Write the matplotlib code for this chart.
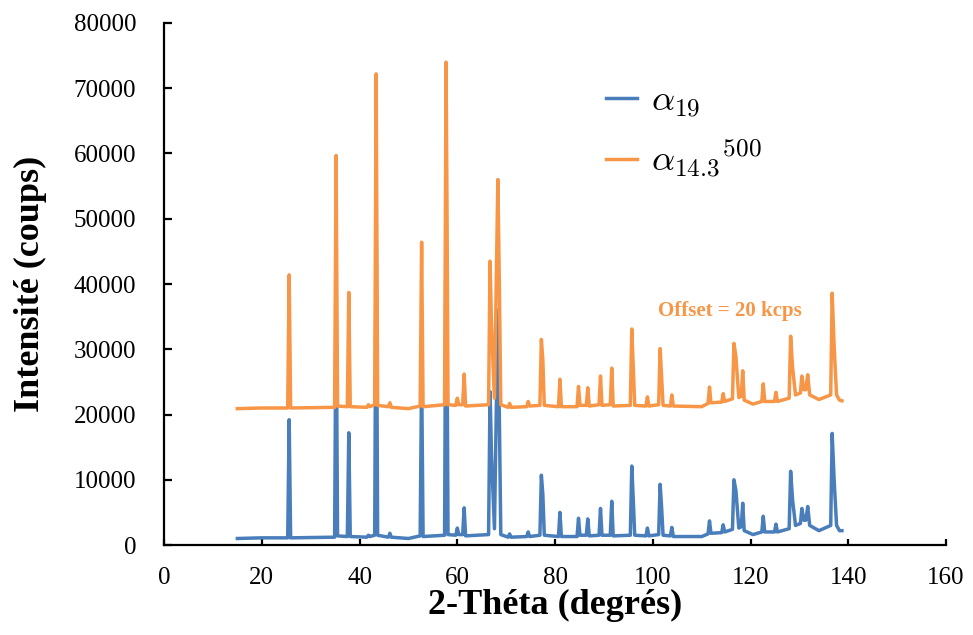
import numpy as np
import matplotlib
matplotlib.use("Agg")
import matplotlib.pyplot as plt

plt.rcParams['font.family'] = ['Liberation Serif', 'DejaVu Serif']
plt.rcParams['mathtext.fontset'] = 'cm'

# 2-theta vertices (baseline / peak top / shoulder)
two_theta = [15.0, 20.0, 25.3, 25.6, 25.9, 34.9, 35.2, 35.5, 37.5, 37.8, 38.1,
             41.5, 41.8, 42.1, 43.1, 43.4, 43.7, 45.9, 46.2, 46.5, 50.0,
             52.4, 52.7, 53.0, 57.4, 57.7, 57.9, 58.1, 59.7, 60.0, 60.3,
             61.1, 61.4, 61.7, 66.4, 66.7, 67.0, 67.6, 68.3, 68.6, 68.9,
             70.4, 70.7, 71.0, 74.2, 74.5, 74.8, 76.9, 77.2, 77.5, 77.8,
             80.7, 81.0, 81.3, 84.5, 84.8, 85.1, 86.4, 86.7, 87.0, 89.0,
             89.3, 89.6, 91.3, 91.6, 91.9, 95.4, 95.7, 96.0, 96.3, 98.6,
             98.9, 99.2, 101.2, 101.5, 101.8, 102.1, 103.6, 103.9, 104.2, 110.0,
             111.3, 111.6, 111.9, 114.1, 114.4, 114.7, 116.3, 116.6, 117.0, 117.6,
             118.1, 118.4, 118.7, 120.5, 122.3, 122.6, 122.9, 124.9, 125.2, 125.5,
             127.9, 128.2, 128.6, 129.2, 130.2, 130.5, 130.9, 131.3, 131.7, 132.1,
             134.0, 136.4, 136.7, 137.1, 137.6, 138.2, 138.7]

alpha19 = [1000, 1100, 1100, 19200, 1100, 1200, 39500, 1400, 1300, 17200, 1300,
           1200, 1500, 1300, 1500, 52000, 1500, 1200, 1800, 1200, 1000,
           1400, 26500, 1300, 1500, 54000, 31000, 1600, 1500, 2600, 1600,
           1600, 5700, 1400, 1600, 23500, 13700, 2500, 36000, 20000, 1600,
           1200, 1700, 1200, 1300, 2000, 1300, 1500, 10700, 7800, 1500,
           1300, 5000, 1300, 1300, 4100, 1500, 1500, 4000, 1400, 1500,
           5600, 1500, 1500, 6700, 1400, 1500, 12100, 7000, 1500, 1400,
           2600, 1400, 1600, 9300, 5800, 1500, 1400, 2700, 1300, 1300,
           1700, 3700, 1800, 1900, 3100, 2000, 2400, 10000, 8400, 2600,
           2800, 6400, 2200, 1600, 2000, 4400, 2000, 2000, 3200, 2000,
           2500, 11300, 6900, 3000, 3300, 5600, 3800, 3800, 5900, 3000,
           2200, 3000, 17100, 10000, 3000, 2200, 2200]

alpha14_3 = [20900, 21000, 21000, 41400, 21000, 21100, 59700, 21300, 21200, 38700, 21200,
             21100, 21500, 21200, 21500, 72200, 21400, 21200, 21800, 21100, 20900,
             21300, 46400, 21200, 21500, 74000, 51000, 21500, 21400, 22500, 21500,
             21500, 26200, 21300, 21500, 43500, 33700, 22500, 56000, 40000, 21500,
             21100, 21700, 21100, 21200, 22000, 21300, 21400, 31500, 28400, 21400,
             21200, 25400, 21200, 21200, 24300, 21400, 21400, 24100, 21300, 21500,
             25900, 21400, 21500, 27100, 21300, 21400, 33100, 27300, 21400, 21300,
             22700, 21300, 21500, 30100, 25800, 21400, 21300, 23000, 21300, 21200,
             21700, 24200, 21800, 21900, 23200, 22000, 22400, 30900, 28900, 22600,
             22800, 26700, 22200, 21600, 22000, 24700, 22000, 22000, 23400, 22000,
             22500, 32000, 27200, 23000, 23300, 25900, 23800, 23800, 26100, 23000,
             22300, 23000, 38600, 30500, 23000, 22200, 22100]

x_ticks = [0, 20, 40, 60, 80, 100, 120, 140, 160]
y_ticks = [0, 10000, 20000, 30000, 40000, 50000, 60000, 70000, 80000]

assert len(two_theta) == len(alpha19) == len(alpha14_3)

blue = '#4a7ebb'
orange = '#f79646'

fig = plt.figure(figsize=(9.73, 6.35), dpi=100)
ax = fig.add_axes([0.1686, 0.1417, 0.8037, 0.8221])

ax.plot(two_theta, alpha19, color=blue, lw=2.5, label=r'$\alpha_{19}$', solid_joinstyle='round')
ax.plot(two_theta, alpha14_3, color=orange, lw=2.5, label=r'$\alpha_{14.3}{}^{500}$', solid_joinstyle='round')

ax.set_xlim(0, 160)
ax.set_ylim(0, 80000)
ax.set_xticks(x_ticks)
ax.set_yticks(y_ticks)
ax.spines['top'].set_visible(False)
ax.spines['right'].set_visible(False)
for s in ('left', 'bottom'):
  ax.spines[s].set_linewidth(1.6)
ax.tick_params(axis='y', direction='in', length=6, width=1.6, labelsize=18, pad=20)
ax.tick_params(axis='x', direction='in', length=4, width=1.6, labelsize=18, pad=16)

ax.set_xlabel('2-Théta (degrés)', fontsize=26, fontweight='bold', labelpad=0)
ax.set_ylabel('Intensité (coups)', fontsize=26, fontweight='bold', labelpad=19)

ax.text(115.8, 35900, 'Offset = 20 kcps', color=orange, fontsize=15,
        fontweight='bold', ha='center', va='center')

ax.legend(loc='upper left', bbox_to_anchor=(0.565, 0.88), frameon=False,
          borderpad=0, borderaxespad=0, fontsize=26, handlelength=0.85,
          handletextpad=0.4, labelspacing=0.5)

fig.savefig('out.png', dpi=100, facecolor='white')
